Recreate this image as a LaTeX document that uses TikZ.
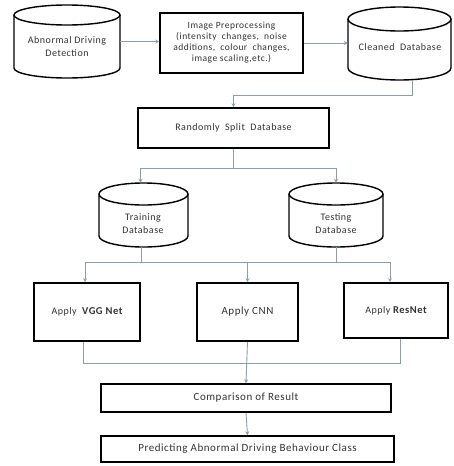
\documentclass[tikz,border=0pt]{standalone}
\usepackage{fontspec}
\setmainfont{Carlito}[LetterSpace=5]
\usetikzlibrary{arrows.meta}
\definecolor{conn}{HTML}{8E9EA6}
\definecolor{txtc}{HTML}{333333}
\tikzset{
  box/.style={draw=black, line width=1.6pt, fill=white, inner sep=2pt, align=center, text=txtc, font=\fontsize{10}{12}\selectfont},
  cylline/.style={draw=black, line width=1.4pt},
  txt/.style={align=center, text=txtc, font=\fontsize{10}{13}\selectfont, inner sep=1pt},
  line/.style={draw=conn, line width=0.9pt},
  arr/.style={line, -{Stealth[length=4pt,width=4pt]}},
}
\newcommand\mycyl[6]{% name, x1, y1, x2, y2, ry
  \draw[cylline] (#2,#3+#6) -- (#2,#5-#6) arc[start angle=180,end angle=360,x radius={(#4-#2)/2*1pt}, y radius=#6pt] -- (#4,#3+#6);
  \draw[cylline] ({(#2+#4)/2},#3+#6) ellipse[x radius={(#4-#2)/2*1pt}, y radius=#6pt];
  \node[inner sep=0, minimum width={(#4-#2)*1pt}, minimum height={(#5-#3)*1pt}] (#1) at ({(#2+#4)/2},{(#3+#5)/2}) {};
}
\begin{document}
\begin{tikzpicture}[x=1pt,y=-1pt]
\useasboundingbox[fill=white] (0,0) rectangle (453,466);
% cylinders
\mycyl{det}{14}{5}{120}{78}{10}
\node[txt] (dett) at (67,47) {Abnormal Driving\\Detection};
\mycyl{clean}{348}{7}{451}{80}{12}
\node[txt] (cleant) at (400,47) {Cleaned~~Database};
\mycyl{train}{99}{183}{188}{247}{11}
\node[txt] (traint) at (143,224) {Training\\Database};
\mycyl{test}{289}{183}{383}{247}{11}
\node[txt] (testt) at (336,224) {Testing\\Database};
% boxes
\node[box, minimum width=143pt, minimum height=60pt, font=\fontsize{9.5}{11}\selectfont] (pre) at (231.5,43)
  {Image Preprocessing\\(intensity~ changes, ~noise\\additions, ~colour~ changes,\\image scaling,etc.)};
\node[box, minimum width=191pt, minimum height=40pt] (split) at (233.5,128) {Randomly~ Split~ Database};
\node[box, minimum width=106pt, minimum height=58pt] (vgg) at (87,312) {Apply~~{\fontsize{10.5}{13}\selectfont\bfseries VGG Net}};
\node[box, minimum width=101pt, minimum height=58pt, font=\fontsize{11}{13}\selectfont] (cnn) at (247.5,312) {Apply CNN};
\node[box, minimum width=104pt, minimum height=55pt] (res) at (396,310.5) {Apply~{\fontsize{10.5}{12}\selectfont\bfseries ResNet}};
\node[box, minimum width=290pt, minimum height=28pt, font=\fontsize{11}{13}\selectfont] (cmp) at (246,398) {Comparison of Result};
\node[box, minimum width=293pt, minimum height=26pt, font=\fontsize{11}{13}\selectfont] (pred) at (247.5,449) {Predicting Abnormal Driving Behaviour Class};
% connectors
\draw[arr] (det.east) -- (det.east -| pre.west);
\draw[arr] (pre.east) -- (pre.east -| clean.west);
\draw[arr] ([xshift=13pt]clean.south) -- ++(0,15) -| (split.north);
\draw[line] (split.south) -- ++(0,20) coordinate (j2);
\draw[arr] (j2) -| ([xshift=-3pt]train.north);
\draw[arr] (j2) -| (test.north);
\draw[line] ([xshift=-2pt]train.south) -- ++(0,15) coordinate (ja);
\draw[line] (test.south) -- ++(0,15) coordinate (jb);
\draw[line] ([xshift=-2pt]vgg.north |- ja) -- ([xshift=-6pt]res.north |- jb);
\draw[arr] ([xshift=-2pt]vgg.north |- ja) -- ([xshift=-2pt]vgg.north);
\draw[arr] ([xshift=-6pt]res.north |- jb) -- ([xshift=-6pt]res.north);
\draw[arr] (cnn.north |- ja) -- (cnn.north);
\draw[line] ([xshift=-4pt]vgg.south) -- ++(0,22) coordinate (jc);
\draw[line] (jc) -| ([xshift=4pt]res.south);
\draw[arr] (cnn.south) -- (cmp.north);
\draw[arr] (cmp.south) -- (pred.north);
\end{tikzpicture}
\end{document}
